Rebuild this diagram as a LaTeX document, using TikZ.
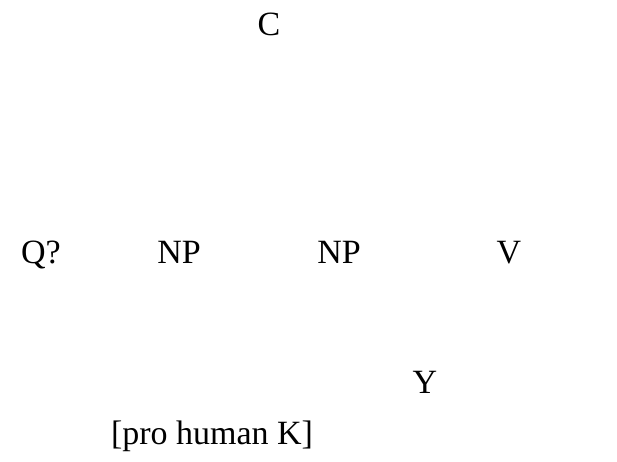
\documentclass[tikz,border=0pt]{standalone}
\usepackage{fontspec}
\setmainfont{Liberation Serif}
\begin{document}
\begin{tikzpicture}[x=1pt,y=1pt,
  lbl/.style={anchor=base,inner sep=0pt,outer sep=0pt,font=\fontsize{34}{40}\selectfont}]
\useasboundingbox (0,0) rectangle (617,462);
\node[lbl] (c) at (269,426) {C};
\node[lbl,anchor=base west] (q) at (21,198) {Q?};
\node[lbl] (np1) at (179,198) {NP};
\node[lbl] (np2) at (339,198) {NP};
\node[lbl] (v) at (509,198) {V};
\node[lbl] (y) at (425,68) {Y};
\node[lbl,anchor=base west] (pro) at (111,17) {[pro human K]};
\end{tikzpicture}
\end{document}
